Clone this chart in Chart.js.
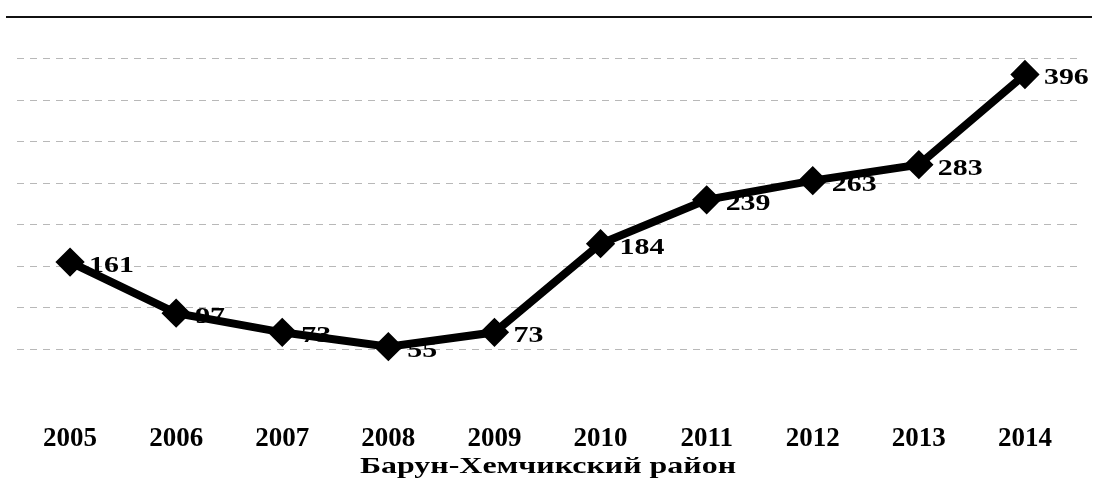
<!DOCTYPE html>
<html>
<head>
<meta charset="utf-8">
<script src="https://cdn.jsdelivr.net/npm/chart.js@4"></script>
<style>
  html, body { margin: 0; padding: 0; background: #fff; }
  #wrap { width: 1100px; height: 483px; }
</style>
</head>
<body>
<div id="wrap"><canvas id="chart"></canvas></div>
<script>
// данные
const years = ['2005', '2006', '2007', '2008', '2009', '2010', '2011', '2012', '2013', '2014'];
const values = [161, 97, 73, 55, 73, 184, 239, 263, 283, 396];
const districtName = 'Барун-Хемчикский район';

const serif = '"Liberation Serif", "Times New Roman", serif';

// подписи значений, верхняя линия и название района
const extras = {
    id: 'extras',
    beforeDatasetsDraw(chart) {
        const ctx = chart.ctx;
        const top = chart.chartArea.top;
        ctx.save();
        ctx.strokeStyle = '#111';
        ctx.lineWidth = 2;
        ctx.beginPath();
        ctx.moveTo(6, top);
        ctx.lineTo(1092, top);
        ctx.stroke();
        ctx.restore();
    },
    afterDatasetsDraw(chart) {
        const ctx = chart.ctx;
        const meta = chart.getDatasetMeta(0);
        ctx.save();
        ctx.fillStyle = '#000';
        ctx.font = 'bold 23px ' + serif;
        ctx.textAlign = 'left';
        ctx.textBaseline = 'middle';
        meta.data.forEach((pt, i) => {
            ctx.save();
            ctx.translate(pt.x + 19, pt.y + 4);
            ctx.scale(1.3, 1);
            ctx.fillText(String(values[i]), 0, 0);
            ctx.restore();
        });
        // название района под осью
        ctx.textAlign = 'center';
        ctx.font = 'bold 24px ' + serif;
        ctx.translate(548, 467);
        ctx.scale(1.33, 1);
        ctx.fillText(districtName, 0, 0);
        ctx.restore();
    }
};

new Chart(document.getElementById('chart'), {
    type: 'line',
    data: {
        labels: years,
        datasets: [{
            data: values,
            borderColor: '#000',
            backgroundColor: '#000',
            borderWidth: 8,
            pointStyle: 'rectRot',
            pointRadius: 9,
            pointBackgroundColor: '#000',
            pointBorderColor: '#000',
            tension: 0
        }]
    },
    options: {
        responsive: true,
        maintainAspectRatio: false,
        animation: false,
        layout: { padding: { left: 10, right: 22, top: 4, bottom: 4 } },
        plugins: {
            legend: { display: false },
            tooltip: { enabled: false },
            title: { display: false }
        },
        scales: {
            x: {
                offset: true,
                grid: { display: false },
                border: { display: false },
                ticks: {
                    color: '#000',
                    font: { family: serif, size: 27, weight: 'bold' },
                    padding: 24
                }
            },
            y: {
                min: 0,
                max: 468,
                ticks: { display: false, stepSize: 52 },
                grid: {
                    drawTicks: false,
                    color: (c) => (c.index === 0 || c.index === 9) ? 'rgba(0,0,0,0)' : '#b8b8b8',
                    lineWidth: 1
                },
                border: { display: false, dash: [7, 6] }
            }
        }
    },
    plugins: [extras]
});
</script>
</body>
</html>
